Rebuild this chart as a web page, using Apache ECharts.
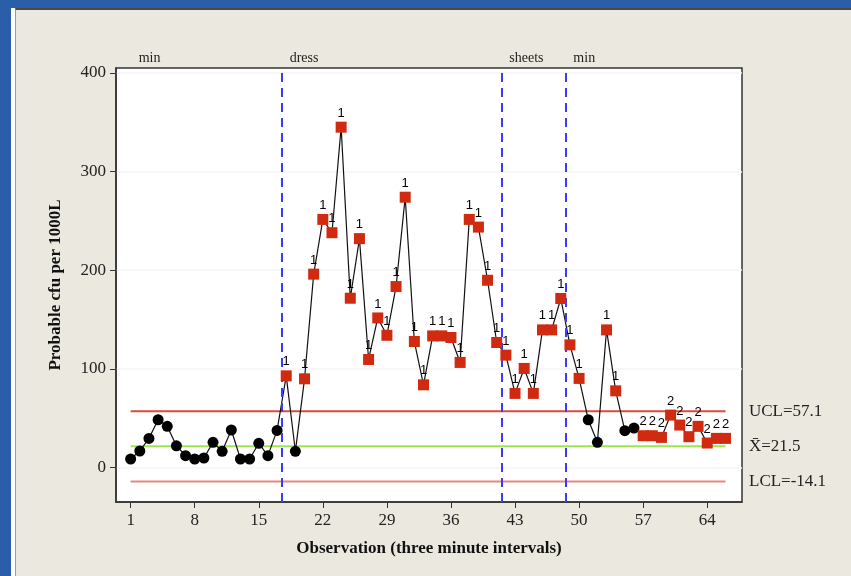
<!DOCTYPE html>
<html><head><meta charset="utf-8">
<script src="https://cdn.jsdelivr.net/npm/echarts@6/dist/echarts.min.js"></script>
<style>
html,body{margin:0;padding:0;width:851px;height:576px;overflow:hidden;background:#2a5ea8;}
#strip{position:absolute;left:11px;top:8px;width:4px;height:568px;background:#ffffff;}
#panel{position:absolute;left:15px;top:8px;right:0;bottom:0;background:#ebe9df;border-top:2px solid #4a4a4a;border-left:1px solid #9a9a9a;}
#chart{position:absolute;left:0;top:0;width:851px;height:576px;}
</style></head>
<body><div id="strip"></div><div id="panel"></div><div id="chart"></div>
<script>
// ---- data ----
const observations = [1,2,3,4,5,6,7,8,9,10,11,12,13,14,15,16,17,18,19,20,21,22,23,24,25,26,27,28,29,30,31,32,33,34,35,36,37,38,39,40,41,42,43,44,45,46,47,48,49,50,51,52,53,54,55,56,57,58,59,60,61,62,63,64,65,66];
const cfu = [8.6,16.7,29.5,48.4,41.7,22,12,8.6,9.6,25.5,
             16.4,38,8.6,8.6,24.5,12,37.6,92.9,16.4,89.9,
             196,251.5,238,345,171.6,232,109.5,151.6,134,183.4,
             274,127.7,83.8,133.4,133.4,131.8,106.5,251.5,243.7,189.8,
             126.7,113.9,75.1,100.4,75.1,139.5,139.5,171.3,124.3,90.3,
             48.4,25.5,139.5,77.7,37.3,40,32.2,32.2,30.5,53.1,
             43,31.2,41.7,24.8,29.5,29.5];
// 0 = in control, 1 = test 1 failure, 2 = test 2 failure
const testFlag = [0,0,0,0,0,0,0,0,0,0,
                  0,0,0,0,0,0,0,1,0,1,
                  1,1,1,1,1,1,1,1,1,1,
                  1,1,1,1,1,1,1,1,1,1,
                  1,1,1,1,1,1,1,1,1,1,
                  0,0,1,1,0,0,2,2,2,2,
                  2,2,2,2,2,2];
const ucl = 57.1, centerLine = 21.5, lcl = -14.1;
const phaseNames = ['min','dress','sheets','min'];
const phaseStarts = [1, 17.5, 41.5, 48.5];
const xTicks = [1,8,15,22,29,36,43,50,57,64];
const yTicks = [0,100,200,300,400];

const serif = '"Liberation Serif","DejaVu Serif",serif';
const sans = '"Liberation Sans",Arial,sans-serif';
const pts = observations.map((o,i)=>[o, cfu[i], testFlag[i]]);
const first = observations[0], last = observations[observations.length-1];

const chart = echarts.init(document.getElementById('chart'), null, {renderer:'canvas'});
const limitSeries = (val, color) => ({
  type:'line', data:[[first,val],[last,val]], showSymbol:false, silent:true, z:1,
  lineStyle:{color:color, width:2}, animation:false
});
const option = {
  animation:false,
  grid:{left:116, top:68, width:626, height:434, show:true, backgroundColor:'#ffffff', borderColor:'#333', borderWidth:1.5},
  xAxis:{
    type:'value', min:-0.6, max:67.8,
    name:'Observation (three minute intervals)', nameLocation:'middle', nameGap:38,
    nameTextStyle:{fontFamily:serif, fontWeight:'bold', fontSize:17, color:'#111'},
    axisLine:{onZero:false, lineStyle:{color:'#333', width:1.5}},
    axisTick:{show:true, customValues:xTicks, length:6, lineStyle:{color:'#333'}},
    axisLabel:{customValues:xTicks, fontFamily:serif, fontSize:17, color:'#222', margin:10},
    splitLine:{show:false}
  },
  yAxis:{
    type:'value', min:-35, max:405, interval:5,
    name:'Probable cfu per 1000L', nameLocation:'middle', nameGap:52,
    nameTextStyle:{fontFamily:serif, fontWeight:'bold', fontSize:17, color:'#111'},
    axisLine:{show:true, onZero:false, lineStyle:{color:'#333', width:1.5}},
    axisTick:{show:true, customValues:yTicks, length:6, lineStyle:{color:'#333'}},
    axisLabel:{customValues:yTicks, fontFamily:serif, fontSize:17, color:'#222', margin:10},
    splitLine:{show:true, lineStyle:{color:'#f5f5f5', width:1.5}}
  },
  series:[
    limitSeries(ucl, '#dc4a3c'),
    limitSeries(centerLine, '#9be84e'),
    limitSeries(lcl, '#e8887c'),
    {
      type:'line', data:pts, showSymbol:false, z:3, silent:true,
      lineStyle:{color:'#111', width:1.2},
      markLine:{
        silent:true, symbol:'none', label:{show:false},
        lineStyle:{color:'#3a3aff', type:[9,6], width:2, opacity:1},
        data: phaseStarts.slice(1).map(v=>({xAxis:v}))
      }
    },
    {
      type:'scatter', z:4, data:pts.filter(p=>p[2]===0), silent:true,
      symbol:'circle', symbolSize:11, itemStyle:{color:'#000', opacity:1}
    },
    {
      type:'scatter', z:5, data:pts.filter(p=>p[2]>0), silent:true,
      symbol:'rect', symbolSize:11, itemStyle:{color:'#d02a10', opacity:1},
      label:{show:true, position:'top', distance:2, formatter:p=>String(p.data[2]),
        fontFamily:sans, fontSize:13, color:'#000'}
    }
  ]
};
chart.setOption(option);

const gr = [];
const gridRight = 116 + 626;
phaseNames.forEach((n,i)=>{
  const x = chart.convertToPixel({xAxisIndex:0}, phaseStarts[i]);
  gr.push({type:'text', left:x+8, top:51, style:{text:n, font:'14px '+serif, fill:'#222'}});
});
[['UCL='+ucl.toFixed(1), ucl], ['X\u0304='+centerLine.toFixed(1), centerLine], ['LCL='+lcl.toFixed(1), lcl]].forEach(([t,v])=>{
  const y = chart.convertToPixel({yAxisIndex:0}, v);
  gr.push({type:'text', x:gridRight+7, y:y, style:{text:t, font:'17px '+serif, fill:'#222', verticalAlign:'middle'}});
});
chart.setOption({graphic:gr});
</script>
</body></html>
